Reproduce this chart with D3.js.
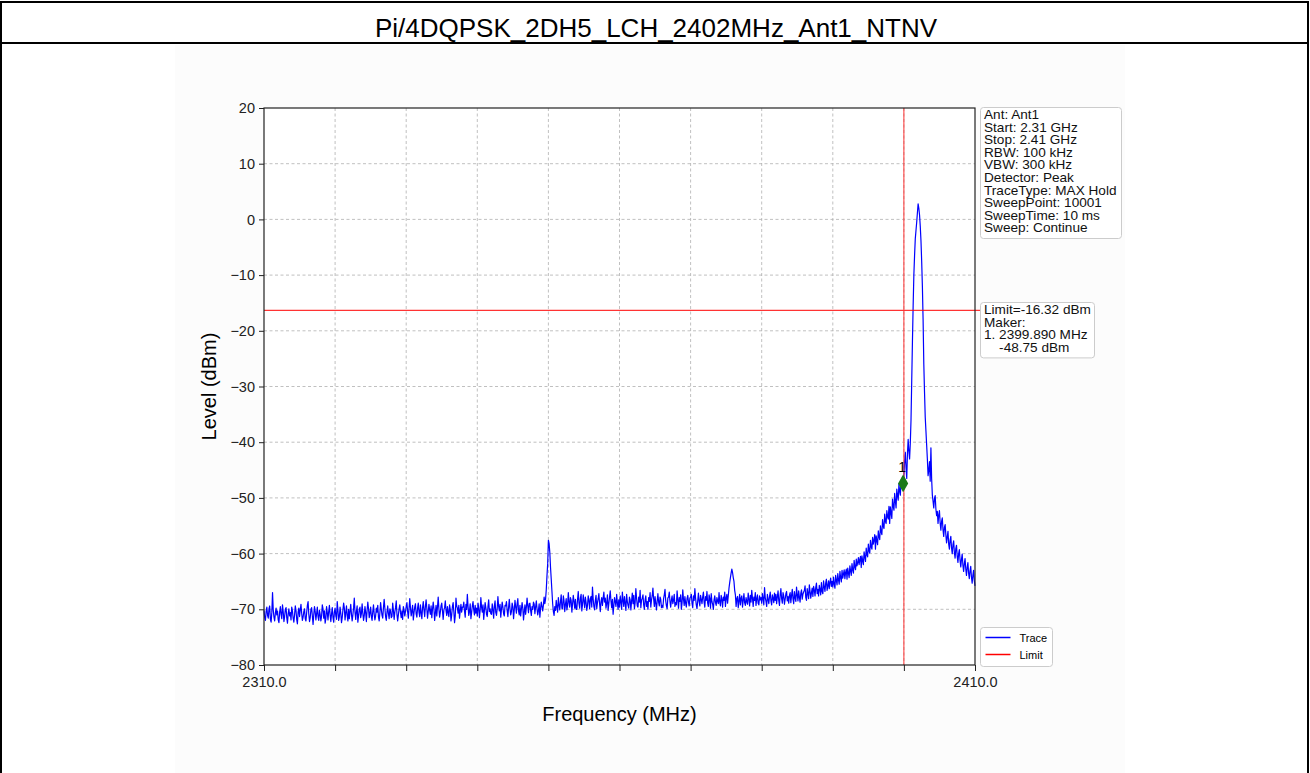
<!DOCTYPE html>
<html>
<head>
<meta charset="utf-8">
<script src="https://cdn.jsdelivr.net/npm/d3@7/dist/d3.min.js"></script>
<style>
  body { margin: 0; background: #fff; }
  svg { display: block; font-family: "Liberation Sans", Arial, sans-serif; }
  .grid line { stroke: #b0b0b0; stroke-width: 0.8; stroke-dasharray: 3, 2.5; }
  .axis path, .axis line { stroke: #222; }
  .axis text { fill: #222; font-size: 14.5px; }
  .box { fill: #fff; stroke: #cccccc; stroke-width: 1; }
  .boxtext { font-size: 13.6px; fill: #111; }
</style>
</head>
<body>
<script>
var width = 1310;
var height = 773;
var title = 'Pi/4DQPSK_2DH5_LCH_2402MHz_Ant1_NTNV';

// sweep 2310 .. 2410 MHz, readings every 0.1 MHz
var freqStart = 2310;
var freqStop = 2410;
var level = [
  -70.2, -71.5, -72.0, -70.4, -69.6, -71.1, -71.6, -69.9, -69.4, -71.8, -72.3, -70.6, -67.0, -70.1, -71.4, -72.1, -70.7, -69.8, -71.0, -70.3,
  -71.9, -72.4, -70.5, -69.5, -70.9, -71.7, -69.2, -70.4, -72.2, -71.3, -70.0, -69.7, -71.5, -72.5, -70.8, -69.9, -71.2, -70.6, -71.9, -69.6,
  -70.3, -71.6, -72.3, -71.0, -69.4, -70.2, -71.8, -72.6, -70.5, -69.8, -71.3, -70.1, -69.1, -70.7, -72.0, -71.4, -70.4, -69.9, -71.7, -72.1,
  -70.6, -69.3, -68.6, -70.9, -72.2, -71.5, -70.0, -69.7, -71.2, -72.7, -71.0, -69.5, -70.4, -71.9, -70.8, -69.6, -71.3, -72.0, -70.2, -70.9,
  -72.1, -71.2, -69.2, -69.9, -71.6, -70.3, -72.5, -71.7, -69.5, -70.6, -71.9, -70.4, -69.3, -71.0, -72.2, -70.8, -69.7, -71.4, -72.3, -70.5,
  -69.8, -71.1, -71.8, -68.6, -70.2, -72.0, -71.3, -69.6, -70.7, -72.4, -71.5, -70.1, -68.9, -69.8, -71.9, -70.6, -69.4, -71.2, -72.1, -70.0,
  -71.7, -70.4, -69.1, -70.9, -72.1, -71.0, -69.7, -68.0, -70.5, -71.8, -70.3, -69.4, -72.3, -71.2, -70.0, -69.6, -71.5, -70.8, -69.0, -70.7,
  -72.0, -71.1, -69.5, -70.6, -72.2, -70.2, -68.7, -69.9, -71.5, -70.7, -69.6, -71.3, -72.0, -70.4, -69.2, -70.9, -71.9, -71.2, -69.8, -70.5,
  -69.3, -71.4, -72.1, -70.6, -68.8, -70.0, -71.1, -71.6, -69.7, -68.2, -69.8, -71.3, -72.0, -70.5, -69.4, -70.8, -71.7, -69.9, -70.3, -71.5,
  -71.3, -68.9, -70.2, -71.8, -70.5, -69.7, -68.5, -70.9, -72.1, -71.0, -69.9, -69.2, -70.6, -71.5, -70.3, -71.8, -69.5, -70.1, -71.2, -70.4,
  -69.5, -68.8, -70.4, -71.6, -69.9, -68.1, -69.7, -71.2, -70.3, -69.3, -71.9, -70.6, -69.6, -69.0, -70.8, -71.4, -69.8, -68.9, -70.5, -71.3,
  -69.2, -70.6, -71.7, -69.7, -68.6, -70.1, -71.3, -69.5, -68.3, -69.8, -71.6, -70.4, -69.1, -70.2, -70.9, -69.4, -71.5, -70.0, -68.7, -69.9,
  -72.0, -70.7, -69.3, -71.2, -69.6, -67.8, -69.9, -71.4, -70.5, -69.4, -68.9, -70.3, -71.8, -70.1, -69.7, -68.5, -70.2, -71.1, -69.5, -70.6,
  -71.3, -69.2, -70.0, -72.1, -71.0, -69.5, -68.8, -70.4, -72.4, -71.2, -68.0, -69.4, -69.8, -70.7, -69.3, -71.6, -70.2, -69.1, -70.5, -69.6,
  -69.6, -68.7, -70.3, -71.4, -69.1, -70.0, -67.3, -69.5, -71.1, -70.4, -69.0, -71.7, -70.6, -69.4, -68.6, -70.1, -71.0, -69.3, -70.7, -69.8,
  -71.2, -68.9, -69.8, -71.5, -70.2, -67.9, -69.6, -70.5, -69.2, -71.8, -70.3, -68.8, -69.7, -70.9, -71.3, -69.5, -68.3, -70.4, -69.9, -70.8,
  -70.9, -69.0, -70.1, -71.6, -69.4, -68.5, -70.6, -71.1, -69.8, -67.7, -69.5, -70.3, -69.1, -71.4, -70.0, -68.7, -69.6, -70.8, -71.2, -69.3,
  -69.4, -68.6, -70.2, -71.3, -69.7, -68.2, -69.9, -71.0, -70.4, -68.9, -69.5, -71.7, -70.1, -68.4, -69.6, -70.7, -69.0, -68.1, -70.3, -71.0,
  -69.3, -71.2, -70.0, -68.8, -69.8, -71.9, -70.5, -69.2, -70.9, -69.6, -68.0, -69.4, -70.6, -69.0, -68.9, -70.2, -71.1, -69.5, -70.0, -68.7,
  -69.1, -70.8, -69.6, -68.5, -69.9, -71.0, -70.2, -69.0, -71.4, -69.8, -68.7, -69.5, -70.3, -69.2, -67.8, -69.0, -68.2, -66.5, -64.0, -61.8,
  -57.6, -58.2, -59.8, -62.5, -64.6, -66.8, -69.0, -70.4, -71.1, -69.5, -70.2, -68.4, -69.6, -70.5, -67.9, -69.2, -70.1, -68.6, -67.4, -69.8,
  -69.9, -67.6, -68.5, -70.4, -69.1, -68.1, -70.1, -69.3, -67.0, -68.7, -69.6, -67.9, -68.4, -70.5, -69.0, -67.5, -68.6, -69.8, -68.2, -70.0,
  -70.0, -68.2, -66.8, -68.9, -69.8, -68.0, -67.3, -70.3, -69.1, -67.4, -68.5, -69.7, -67.8, -68.8, -70.2, -69.3, -67.6, -68.4, -69.9, -68.1,
  -67.7, -69.6, -66.0, -68.2, -69.5, -70.1, -68.4, -67.5, -69.9, -68.8, -68.1, -67.2, -69.0, -70.4, -68.6, -67.9, -69.3, -68.0, -66.9, -68.7,
  -68.0, -69.8, -68.9, -67.4, -70.2, -69.0, -67.8, -66.7, -68.5, -69.7, -68.2, -70.9, -69.4, -67.9, -68.6, -69.5, -67.3, -68.8, -70.0, -68.3,
  -69.6, -67.6, -68.7, -70.0, -66.9, -68.4, -69.5, -67.7, -68.9, -70.2, -67.3, -68.6, -69.3, -69.8, -67.8, -68.3, -70.1, -68.5, -67.1, -69.0,
  -67.5, -69.9, -68.8, -66.3, -68.0, -69.4, -69.6, -67.8, -68.7, -66.6, -69.7, -68.4, -68.0, -67.4, -69.2, -70.0, -68.3, -67.6, -69.5, -68.6,
  -70.0, -67.9, -68.6, -67.0, -69.6, -68.3, -67.6, -66.2, -68.1, -69.5, -67.7, -68.9, -70.1, -68.5, -67.2, -68.7, -69.4, -67.8, -68.2, -69.7,
  -69.3, -69.7, -68.1, -67.4, -66.4, -68.5, -69.4, -69.9, -68.0, -67.8, -66.9, -68.6, -69.6, -68.3, -67.6, -69.0, -68.4, -67.3, -69.5, -68.8,
  -69.2, -66.7, -68.3, -69.8, -67.9, -68.6, -67.4, -70.0, -68.8, -66.5, -68.2, -69.3, -67.7, -68.9, -69.6, -68.1, -67.5, -68.7, -69.4, -68.0,
  -67.8, -67.3, -68.9, -69.7, -67.6, -68.4, -66.3, -68.0, -69.2, -69.9, -68.5, -67.1, -68.6, -69.4, -67.5, -68.2, -69.0, -67.8, -66.9, -68.7,
  -69.6, -67.7, -68.4, -66.8, -68.9, -69.5, -67.4, -68.1, -69.8, -67.2, -68.6, -69.1, -70.0, -68.3, -67.6, -68.8, -69.3, -67.9, -68.5, -69.0,
  -67.0, -68.7, -69.4, -67.5, -68.2, -69.6, -67.8, -68.4, -66.9, -69.5, -68.0, -67.3, -68.9, -67.6, -66.2, -65.2, -64.3, -63.5, -62.8, -63.4,
  -64.3, -65.0, -66.6, -67.4, -69.5, -68.1, -67.7, -69.7, -68.5, -67.3, -69.2, -68.0, -67.6, -69.6, -68.4, -67.2, -68.8, -69.3, -67.9, -68.6,
  -69.1, -67.1, -68.2, -69.4, -67.5, -68.7, -66.6, -68.0, -69.5, -67.8, -68.4, -67.0, -69.3, -68.1, -67.4, -68.9, -69.2, -67.6, -68.3, -67.9,
  -68.9, -67.2, -68.1, -69.2, -66.1, -67.9, -68.6, -69.5, -67.3, -68.2, -69.0, -67.7, -66.9, -68.5, -69.2, -67.4, -68.0, -68.8, -67.1, -68.4,
  -67.3, -69.0, -67.8, -66.7, -68.4, -69.3, -67.4, -66.3, -68.1, -68.9, -67.0, -67.6, -69.1, -68.2, -67.2, -66.8, -68.5, -67.7, -68.9, -67.5,
  -67.0, -68.8, -67.5, -66.4, -68.1, -69.0, -66.8, -67.9, -68.6, -66.0, -67.4, -68.5, -66.7, -67.8, -68.7, -67.1, -66.5, -68.2, -67.3, -66.9,
  -66.6, -65.8, -67.9, -68.4, -66.3, -67.2, -68.1, -65.6, -66.8, -68.0, -67.0, -66.2, -67.7, -65.9, -66.5, -67.6, -66.1, -65.3, -67.2, -66.4,
  -67.6, -65.7, -66.4, -67.4, -65.2, -66.8, -67.2, -64.9, -66.0, -66.8, -65.3, -64.6, -66.6, -65.8, -64.9, -66.3, -65.1, -64.4, -65.9, -65.0,
  -66.0, -64.2, -65.5, -66.2, -63.9, -64.8, -65.6, -63.6, -64.7, -65.5, -63.2, -64.3, -65.1, -63.0, -64.4, -63.7, -62.9, -64.5, -63.4, -62.8,
  -64.6, -62.6, -63.5, -64.3, -62.2, -63.1, -63.9, -61.8, -62.9, -63.5, -61.2, -62.4, -62.9, -61.0, -62.2, -61.6, -60.7, -62.0, -61.1, -60.5,
  -62.5, -60.4, -61.3, -62.0, -59.7, -60.6, -61.4, -59.0, -60.2, -60.6, -58.3, -59.5, -59.9, -57.6, -58.8, -59.2, -57.1, -58.3, -57.6, -56.6,
  -59.2, -56.8, -57.7, -58.4, -55.9, -57.0, -57.5, -55.0, -56.1, -56.6, -53.9, -55.1, -55.5, -52.9, -54.2, -54.6, -52.3, -53.4, -53.8, -51.5,
  -54.6, -51.6, -52.7, -53.7, -50.2, -51.5, -52.2, -49.2, -50.6, -51.8, -48.4, -49.6, -50.4, -47.5, -48.8, -49.5, -46.8, -48.0, -46.2, -47.3,
  -46.0, -43.5, -41.8, -44.6, -46.5, -42.0, -39.5, -41.6, -43.0, -40.2, -36.0, -29.0, -22.0, -15.5, -10.0, -6.5, -3.5, -2.0, -0.5, 1.2,
  2.8, 2.0, 0.8, -1.2, -3.8, -7.5, -12.0, -18.0, -26.0, -31.0, -35.5, -38.0, -40.5, -43.0, -46.0, -45.0, -43.5, -47.0, -41.0, -46.5,
  -49.5, -50.6, -51.8, -50.1, -49.6, -52.0, -53.2, -52.4, -54.6, -53.1, -52.3, -54.5, -55.8, -54.2, -53.6, -55.7, -56.9, -55.3, -54.8, -56.6,
  -58.1, -57.0, -56.0, -58.3, -59.2, -57.6, -56.9, -59.0, -60.0, -58.4, -57.7, -59.8, -60.8, -59.1, -58.5, -60.5, -61.6, -60.0, -59.3, -61.2,
  -62.4, -61.0, -60.1, -62.1, -63.2, -61.8, -60.9, -62.7, -63.9, -62.5, -61.6, -63.5, -64.5, -63.1, -62.3, -64.2, -65.3, -63.9, -63.0, -64.8,
  -65.8
];

var limit = -16.32;
var marker = { freq: 2399.89, level: -47.4, label: '1' };

var yTicks = [20, 10, 0, -10, -20, -30, -40, -50, -60, -70, -80];
var xTicks = [2310, 2320, 2330, 2340, 2350, 2360, 2370, 2380, 2390, 2400, 2410];
var xLabels = { 2310: '2310.0', 2410: '2410.0' };

var infoLines = ['Ant: Ant1', 'Start: 2.31 GHz', 'Stop: 2.41 GHz', 'RBW: 100 kHz', 'VBW: 300 kHz',
  'Detector: Peak', 'TraceType: MAX Hold', 'SweepPoint: 10001', 'SweepTime: 10 ms', 'Sweep: Continue'];
var limitLines = ['Limit=-16.32 dBm', 'Maker:', '1. 2399.890 MHz', '    -48.75 dBm'];
var legendItems = [{ name: 'Trace', color: '#0000ff' }, { name: 'Limit', color: '#ff0000' }];

var plot = { left: 264, right: 975, top: 108, bottom: 665 };

var svg = d3.select('body').append('svg')
  .attr('width', width)
  .attr('height', height);

// page frame + title cell
svg.append('rect').attr('x', 175).attr('y', 45).attr('width', 950).attr('height', height - 45)
  .attr('fill', '#fcfcfc');
svg.append('rect').attr('x', 1).attr('y', 2).attr('width', width - 3).attr('height', height + 10)
  .attr('fill', 'none').attr('stroke', '#000').attr('stroke-width', 2);
svg.append('line').attr('x1', 1).attr('x2', width - 2).attr('y1', 43).attr('y2', 43)
  .attr('stroke', '#000').attr('stroke-width', 2);
svg.append('text').attr('x', 656).attr('y', 37).attr('text-anchor', 'middle')
  .style('font-size', '26px').text(title);

var x = d3.scaleLinear().domain([freqStart, freqStop]).range([plot.left, plot.right]);
var y = d3.scaleLinear().domain([-80, 20]).range([plot.bottom, plot.top]);

svg.append('rect').attr('x', plot.left).attr('y', plot.top)
  .attr('width', plot.right - plot.left).attr('height', plot.bottom - plot.top)
  .attr('fill', '#fff');

// grid
var grid = svg.append('g').attr('class', 'grid');
grid.selectAll('.gx').data(xTicks.slice(1, -1)).enter().append('line')
  .attr('x1', function (d) { return x(d); }).attr('x2', function (d) { return x(d); })
  .attr('y1', plot.top).attr('y2', plot.bottom);
grid.selectAll('.gy').data(yTicks.slice(1, -1)).enter().append('line')
  .attr('y1', function (d) { return y(d); }).attr('y2', function (d) { return y(d); })
  .attr('x1', plot.left).attr('x2', plot.right);

// trace (readings are evenly spaced over the sweep)
var step = (freqStop - freqStart) / (level.length - 1);
var trace = level.map(function (v, i) { return [freqStart + i * step, v]; });
svg.append('path').datum(trace)
  .attr('fill', 'none').attr('stroke', '#0000ff').attr('stroke-width', 1.2)
  .attr('stroke-linejoin', 'round')
  .attr('d', d3.line().x(function (d) { return x(d[0]); }).y(function (d) { return y(d[1]); }));

// limit + marker lines
svg.append('line').attr('x1', plot.left).attr('x2', plot.right + 5)
  .attr('y1', y(limit)).attr('y2', y(limit)).attr('stroke', '#ff0000').attr('stroke-width', 1);
svg.append('line').attr('x1', x(2400)).attr('x2', x(2400))
  .attr('y1', plot.top).attr('y2', plot.bottom).attr('stroke', '#ff3030').attr('stroke-width', 1);

svg.append('path')
  .attr('d', d3.symbol().type(d3.symbolDiamond).size(90))
  .attr('transform', 'translate(' + x(marker.freq) + ',' + y(marker.level) + ')')
  .attr('fill', '#1a7a1a');
svg.append('text').attr('x', x(marker.freq) - 1).attr('y', y(marker.level) - 11)
  .attr('text-anchor', 'middle').style('font-size', '14px').text(marker.label);

// axes
var yAxis = d3.axisLeft(y).tickValues(yTicks).tickSize(5).tickPadding(4)
  .tickFormat(function (d) { return String(d).replace('-', '\u2212'); });
svg.append('g').attr('class', 'axis').attr('transform', 'translate(' + plot.left + ',0)').call(yAxis)
  .select('.domain').remove();

var xAxis = d3.axisBottom(x).tickValues(xTicks).tickSize(6).tickPadding(6)
  .tickFormat(function (d) { return xLabels[d] || ''; });
svg.append('g').attr('class', 'axis').attr('transform', 'translate(0,' + plot.bottom + ')').call(xAxis)
  .select('.domain').remove();

svg.append('rect').attr('x', plot.left).attr('y', plot.top)
  .attr('width', plot.right - plot.left).attr('height', plot.bottom - plot.top)
  .attr('fill', 'none').attr('stroke', '#222').attr('stroke-width', 1.2);

svg.append('text').attr('transform', 'translate(216,' + ((plot.top + plot.bottom) / 2) + ') rotate(-90)')
  .attr('text-anchor', 'middle').style('font-size', '20px').text('Level (dBm)');
svg.append('text').attr('x', (plot.left + plot.right) / 2).attr('y', 721)
  .attr('text-anchor', 'middle').style('font-size', '20px').text('Frequency (MHz)');

// text boxes on the right
function textBox(x0, y0, w, lines) {
  svg.append('rect').attr('class', 'box').attr('x', x0).attr('y', y0)
    .attr('width', w).attr('height', lines.length * 12.6 + 5).attr('rx', 3);
  svg.append('g').selectAll('text').data(lines).enter().append('text')
    .attr('class', 'boxtext').attr('x', x0 + 3.5).attr('y', function (d, i) { return y0 + 11.5 + i * 12.6; })
    .attr('xml:space', 'preserve').style('white-space', 'pre')
    .text(function (d) { return d; });
}
textBox(980.5, 107.5, 141, infoLines);
textBox(980.5, 302.5, 114, limitLines);

var legend = svg.append('g').attr('transform', 'translate(980.5,627.5)');
legend.append('rect').attr('class', 'box').attr('width', 72).attr('height', 39).attr('rx', 3);
legend.selectAll('line').data(legendItems).enter().append('line')
  .attr('x1', 5).attr('x2', 30)
  .attr('y1', function (d, i) { return 10 + i * 17; }).attr('y2', function (d, i) { return 10 + i * 17; })
  .attr('stroke', function (d) { return d.color; }).attr('stroke-width', 1.5);
legend.selectAll('text').data(legendItems).enter().append('text')
  .attr('x', 39).attr('y', function (d, i) { return 14 + i * 17; })
  .style('font-size', '11px').text(function (d) { return d.name; });
</script>
</body>
</html>
